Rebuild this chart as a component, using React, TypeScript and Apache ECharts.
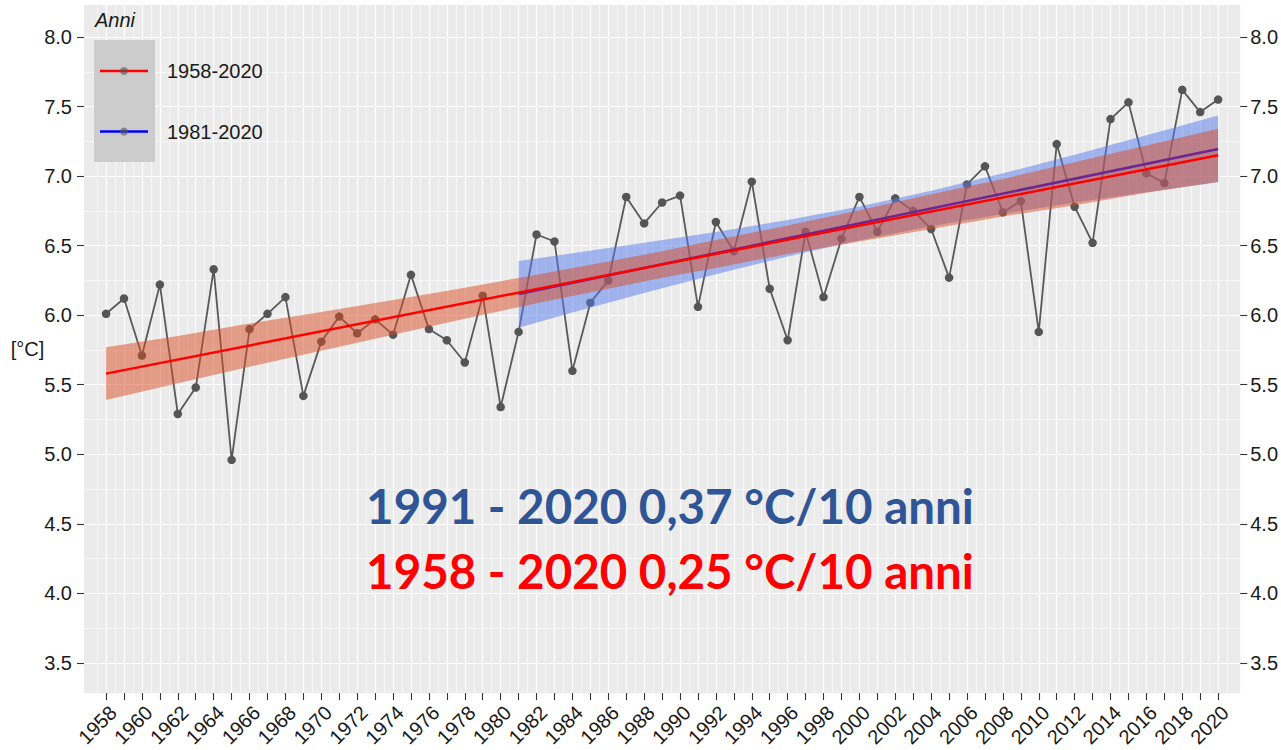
import React, { useEffect, useRef } from "react";
import * as echarts from "echarts";

// ---- data ----
const years = [
  1958, 1959, 1960, 1961, 1962, 1963, 1964, 1965, 1966, 1967, 1968, 1969, 1970,
  1971, 1972, 1973, 1974, 1975, 1976, 1977, 1978, 1979, 1980, 1981, 1982, 1983,
  1984, 1985, 1986, 1987, 1988, 1989, 1990, 1991, 1992, 1993, 1994, 1995, 1996,
  1997, 1998, 1999, 2000, 2001, 2002, 2003, 2004, 2005, 2006, 2007, 2008, 2009,
  2010, 2011, 2012, 2013, 2014, 2015, 2016, 2017, 2018, 2019, 2020,
];
const temps = [
  6.01, 6.12, 5.71, 6.22, 5.29, 5.48, 6.33, 4.96, 5.9, 6.01, 6.13, 5.42, 5.81,
  5.99, 5.87, 5.97, 5.86, 6.29, 5.9, 5.82, 5.66, 6.14, 5.34, 5.88, 6.58, 6.53,
  5.6, 6.09, 6.25, 6.85, 6.66, 6.81, 6.86, 6.06, 6.67, 6.46, 6.96, 6.19, 5.82,
  6.6, 6.13, 6.55, 6.85, 6.6, 6.84, 6.75, 6.62, 6.27, 6.94, 7.07, 6.74, 6.82,
  5.88, 7.23, 6.78, 6.52, 7.41, 7.53, 7.02, 6.95, 7.62, 7.46, 7.55,
];

// linear trends
const trendAllYears = [1958, 2020];
const trendAllValues = [5.58, 7.15];
const trendRecentYears = [1981, 2020];
const trendRecentValues = [6.152, 7.195];

// confidence bands
const bandAllYears = [1958, 1962, 1966, 1970, 1974, 1978, 1982, 1986, 1989, 1992, 1996, 2000, 2004, 2008, 2012, 2016, 2020];
const bandAllLower = [5.39, 5.51, 5.63, 5.745, 5.86, 5.974, 6.085, 6.19, 6.27, 6.34, 6.44, 6.53, 6.62, 6.71, 6.79, 6.88, 6.96];
const bandAllUpper = [5.77, 5.85, 5.94, 6.023, 6.11, 6.198, 6.291, 6.386, 6.46, 6.54, 6.645, 6.755, 6.87, 6.98, 7.1, 7.22, 7.34];

const bandRecentYears = [1981, 1984, 1988, 1992, 1996, 2000, 2004, 2008, 2012, 2016, 2020];
const bandRecentLower = [5.91, 6.02, 6.16, 6.294, 6.422, 6.538, 6.64, 6.728, 6.81, 6.883, 6.955];
const bandRecentUpper = [6.39, 6.445, 6.52, 6.598, 6.684, 6.782, 6.895, 7.02, 7.154, 7.293, 7.435];

// axis ticks
const yTicks = [3.5, 4.0, 4.5, 5.0, 5.5, 6.0, 6.5, 7.0, 7.5, 8.0];
const xLabelYears = [
  1958, 1960, 1962, 1964, 1966, 1968, 1970, 1972, 1974, 1976, 1978, 1980, 1982,
  1984, 1986, 1988, 1990, 1992, 1994, 1996, 1998, 2000, 2002, 2004, 2006, 2008,
  2010, 2012, 2014, 2016, 2018, 2020,
];

const legendTitle = "Anni";
const legendLabels = ["1958-2020", "1981-2020"];
const yName = "[°C]";
const noteRecent = "1991 - 2020 0,37 °C/10 anni";
const noteAll = "1958 - 2020 0,25 °C/10 anni";

const AX_FONT = "Liberation Sans";
const TXT = "#1a1a1a";

function bandSeries(name: string, xs: number[], lo: number[], hi: number[], fill: string, z: number) {
  return {
    type: "custom",
    name,
    z,
    silent: true,
    data: xs.map((x, i) => [x, lo[i], hi[i]]),
    encode: { x: 0, y: [1, 2] },
    renderItem: (params: any, api: any) => {
      if (params.dataIndexInside !== 0) return null;
      const n = params.dataInsideLength;
      const top: number[][] = [];
      const bottom: number[][] = [];
      for (let i = 0; i < n; i++) {
        top.push(api.coord([api.value(0, i), api.value(2, i)]));
        bottom.push(api.coord([api.value(0, i), api.value(1, i)]));
      }
      return {
        type: "polygon",
        shape: { points: top.concat(bottom.reverse()) },
        style: { fill },
      };
    },
  };
}

export default function App() {
  const ref = useRef<HTMLDivElement>(null);
  useEffect(() => {
    document.body.style.margin = "0";
    const chart = echarts.init(ref.current!, null, { renderer: "svg" });

    const pair = (xs: number[], ys: number[]) => xs.map((x, i) => [x, ys[i]]);

    const yAxisBase = {
      type: "value",
      min: 3.284,
      max: 8.23,
      minInterval: 0.5,
      maxInterval: 0.5,
      splitNumber: 10,
      axisLine: { show: false },
      axisTick: {
        show: true,
        length: 7,
        customValues: yTicks,
        lineStyle: { color: "#333", width: 1.1 },
      },
      axisLabel: {
        customValues: yTicks,
        formatter: (v: number) => v.toFixed(1),
        fontSize: 20,
        fontFamily: AX_FONT,
        color: TXT,
        margin: 12,
      },
      minorTick: { show: false, splitNumber: 2 },
    };

    const textStyle = (text: string, font: string, fill: string, align: string) => ({
      text,
      font,
      fill,
      align,
      verticalAlign: "middle",
      textAlign: align,
      textVerticalAlign: "middle",
    });

    const option: any = {
      animation: false,
      grid: {
        left: 84,
        right: 40,
        top: 5,
        bottom: 57,
        show: true,
        backgroundColor: "#EBEBEB",
        borderWidth: 0,
      },
      xAxis: {
        type: "value",
        min: 1956.77,
        max: 2021.23,
        minInterval: 1,
        maxInterval: 1,
        splitNumber: 64,
        axisLine: { show: false },
        axisTick: {
          show: true,
          length: 7,
          customValues: years,
          lineStyle: { color: "#333", width: 1.1 },
        },
        axisLabel: {
          customValues: xLabelYears,
          formatter: (v: number) => String(Math.round(v)),
          rotate: 45,
          align: "right",
          verticalAlign: "top",
          margin: 9,
          fontSize: 20,
          fontFamily: AX_FONT,
          color: TXT,
        },
        splitLine: { show: true, lineStyle: { color: "#FFFFFF", width: 1.2 } },
        minorTick: { show: false, splitNumber: 2 },
        minorSplitLine: { show: true, lineStyle: { color: "#FFFFFF", width: 0.6 } },
      },
      yAxis: [
        {
          ...yAxisBase,
          position: "left",
          splitLine: { show: true, lineStyle: { color: "#FFFFFF", width: 1.2 } },
          minorSplitLine: { show: true, lineStyle: { color: "#FFFFFF", width: 0.6 } },
        },
        {
          ...yAxisBase,
          position: "right",
          axisLabel: { ...yAxisBase.axisLabel, margin: 10 },
          splitLine: { show: false },
          minorSplitLine: { show: false },
        },
      ],
      series: [
        {
          name: "temperatura",
          type: "line",
          data: pair(years, temps),
          symbol: "circle",
          symbolSize: 8.5,
          itemStyle: { color: "#555555", borderWidth: 0 },
          lineStyle: { color: "#595959", width: 1.8 },
          z: 2,
          silent: true,
        },
        bandSeries("band1981", bandRecentYears, bandRecentLower, bandRecentUpper, "rgba(85,121,235,0.5)", 3),
        {
          name: legendLabels[1],
          type: "line",
          data: pair(trendRecentYears, trendRecentValues),
          symbol: "none",
          lineStyle: { color: "#0000FF", width: 2.5 },
          z: 4,
          silent: true,
        },
        bandSeries("band1958", bandAllYears, bandAllLower, bandAllUpper, "rgba(215,75,35,0.5)", 5),
        {
          name: legendLabels[0],
          type: "line",
          data: pair(trendAllYears, trendAllValues),
          symbol: "none",
          lineStyle: { color: "#FF0000", width: 2.5 },
          z: 6,
          silent: true,
        },
      ],
      graphic: [
        { type: "text", x: 27.5, y: 349, z: 100, style: textStyle(yName, `20px "${AX_FONT}"`, TXT, "center") },
        { type: "text", x: 95, y: 20, z: 100, style: textStyle(legendTitle, `italic 20px "${AX_FONT}"`, TXT, "left") },
        { type: "rect", z: 100, shape: { x: 94, y: 40, width: 61, height: 122 }, style: { fill: "#CCCCCC" } },
        { type: "line", z: 101, shape: { x1: 100, y1: 71, x2: 148, y2: 71 }, style: { stroke: "#FF0000", lineWidth: 2.5 } },
        { type: "circle", z: 102, shape: { cx: 124, cy: 71, r: 4 }, style: { fill: "#555555", opacity: 0.6 } },
        { type: "line", z: 101, shape: { x1: 100, y1: 131.5, x2: 148, y2: 131.5 }, style: { stroke: "#0000FF", lineWidth: 2.5 } },
        { type: "circle", z: 102, shape: { cx: 124, cy: 131.5, r: 4 }, style: { fill: "#555555", opacity: 0.6 } },
        { type: "text", x: 167, y: 71, z: 100, style: textStyle(legendLabels[0], `20px "${AX_FONT}"`, TXT, "left") },
        { type: "text", x: 167, y: 131.5, z: 100, style: textStyle(legendLabels[1], `20px "${AX_FONT}"`, TXT, "left") },
        { type: "text", x: 670, y: 505, scaleX: 0.99, z: 100, style: textStyle(noteRecent, 'bold 48px "Lato"', "#2F5597", "center") },
        { type: "text", x: 670, y: 570, scaleX: 0.99, z: 100, style: textStyle(noteAll, 'bold 48px "Lato"', "#FF0000", "center") },
      ],
    };

    chart.setOption(option);
    return () => chart.dispose();
  }, []);
  return <div ref={ref} style={{ width: 1281, height: 750 }} />;
}
